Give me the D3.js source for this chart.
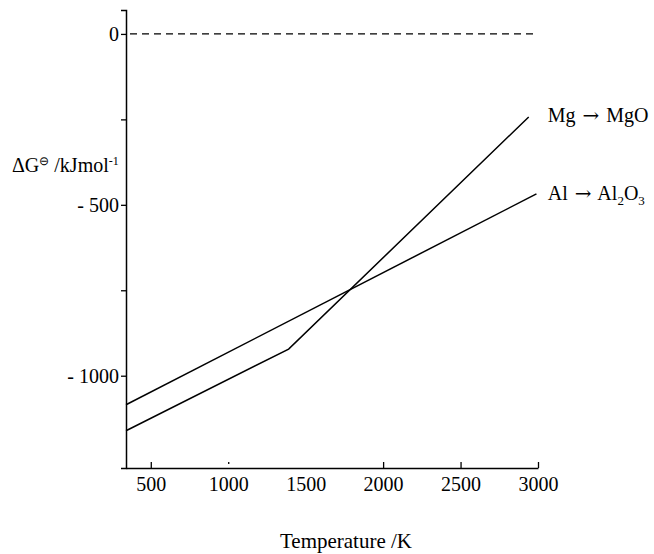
<!DOCTYPE html>
<html>
<head>
<meta charset="utf-8">
<script src="https://cdn.jsdelivr.net/npm/d3@7"></script>
<style>
  body { margin: 0; background: #fff; }
  svg text { font-family: "Liberation Serif", "Times New Roman", serif; fill: #000; }
  .arrow { font-family: "DejaVu Serif", serif; }
</style>
</head>
<body>
<svg id="chart" width="654" height="554"></svg>
<script>
// temperature (K) vs free energy (kJ/mol)
const alTemp = [340, 2990];
const alG = [-1085, -468];
const mgTemp = [340, 1390, 2940];
const mgG = [-1161, -922, -243];

const xTicks = [500, 1000, 1500, 2000, 2500, 3000];
const yTicks = [0, -250, -500, -750, -1000];

const svg = d3.select("#chart");
const margin = { top: 10, left: 126 };
const width = 412;
const height = 458;
const fs = 20;

const x = d3.scaleLinear().domain([340, 3000]).range([0, width]);
const y = d3.scaleLinear().domain([-1270, 70]).range([height, 0]);

const g = svg.append("g")
  .attr("transform", `translate(${margin.left},${margin.top})`);

// x axis, ticks point inward
const xAxis = g.append("g")
  .attr("transform", `translate(0,${height})`)
  .call(d3.axisBottom(x)
    .tickValues(xTicks)
    .tickSizeInner(-6)
    .tickSizeOuter(0)
    .tickPadding(9)
    .tickFormat(d3.format("d")));

xAxis.select(".domain").attr("stroke-width", 1.5);
xAxis.selectAll(".tick line").attr("stroke-width", 1.3)
  .each(function(d) {
    if (d === 1500) d3.select(this).remove();
    if (d === 1000) d3.select(this).attr("y1", -4).attr("y2", -6);
  });
xAxis.selectAll(".tick text").attr("font-size", fs).attr("font-family", "Liberation Serif");

// y axis
const yAxis = g.append("g")
  .call(d3.axisLeft(y)
    .tickValues(yTicks)
    .tickSize(5)
    .tickPadding(2)
    .tickFormat(v => v === 0 ? "0" : (v % 500 === 0 ? "- " + Math.abs(v) : "")));

yAxis.select(".domain").attr("stroke-width", 1.5);
yAxis.selectAll(".tick line").attr("stroke-width", 1.3);
yAxis.selectAll(".tick text").attr("font-size", fs).attr("font-family", "Liberation Serif");

// zero line
g.append("line")
  .attr("x1", 4).attr("x2", x(2985))
  .attr("y1", y(0)).attr("y2", y(0))
  .attr("stroke", "#000")
  .attr("stroke-width", 1.2)
  .attr("stroke-dasharray", "7,5");

const line = d3.line()
  .x(d => x(d[0]))
  .y(d => y(d[1]));

g.append("path")
  .datum(d3.zip(alTemp, alG))
  .attr("fill", "none")
  .attr("stroke", "#000")
  .attr("stroke-width", 1.5)
  .attr("d", line);

g.append("path")
  .datum(d3.zip(mgTemp, mgG))
  .attr("fill", "none")
  .attr("stroke", "#000")
  .attr("stroke-width", 1.5)
  .attr("d", line);

// line labels
const labelX = x(mgTemp[2]) + 19;

const mgLabel = g.append("text")
  .attr("x", labelX)
  .attr("y", y(mgG[2]) + 5)
  .attr("font-size", fs)
  .attr("xml:space", "preserve");
mgLabel.append("tspan").text("Mg ");
mgLabel.append("tspan").attr("class", "arrow").attr("font-size", 20).attr("dx", 2).text("\u2192");
mgLabel.append("tspan").attr("dx", 2).text(" MgO");

const alLabel = g.append("text")
  .attr("x", labelX)
  .attr("y", y(alG[1]) + 6)
  .attr("font-size", fs)
  .attr("xml:space", "preserve");
alLabel.append("tspan").text("Al ");
alLabel.append("tspan").attr("class", "arrow").attr("font-size", 20).attr("dx", 2).text("\u2192");
alLabel.append("tspan").attr("dx", 2).text(" Al");
alLabel.append("tspan").attr("font-size", 13).attr("dy", 5).text("2");
alLabel.append("tspan").attr("dy", -5).text("O");
alLabel.append("tspan").attr("font-size", 13).attr("dy", 5).text("3");

// axis titles
const yTitle = svg.append("text")
  .attr("x", 12)
  .attr("y", 172)
  .attr("font-size", fs);
yTitle.append("tspan").text("\u0394G");
yTitle.append("tspan").attr("font-size", 12).attr("dy", -7).text("\u2296");
yTitle.append("tspan").attr("dy", 7).text(" /kJmol");
yTitle.append("tspan").attr("font-size", 12).attr("dy", -7).text("-1");

svg.append("text")
  .attr("x", 346)
  .attr("y", 548)
  .attr("text-anchor", "middle")
  .attr("font-size", 21)
  .text("Temperature /K");
</script>
</body>
</html>
